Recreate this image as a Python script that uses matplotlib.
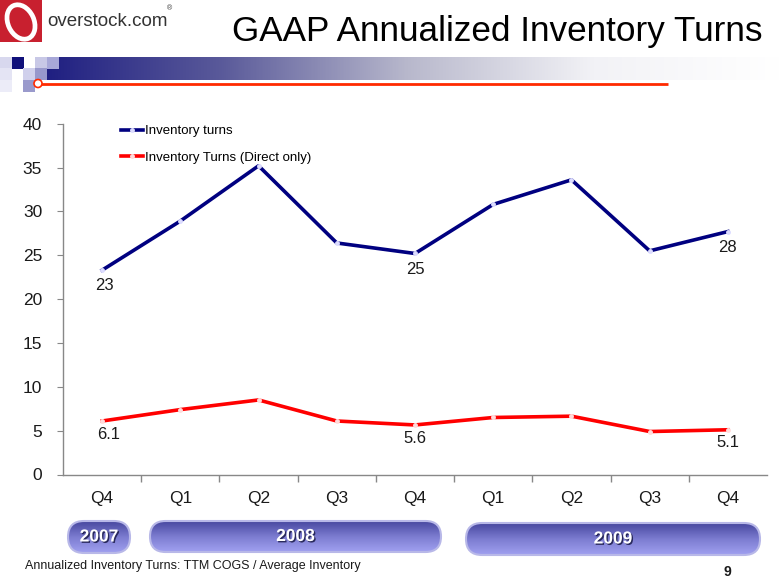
import matplotlib
matplotlib.use('Agg')
import matplotlib.pyplot as plt
import matplotlib.patches as mpatches
import matplotlib.patheffects as pe
import numpy as np

plt.rcParams['font.family'] = ['Liberation Sans', 'DejaVu Sans']

# data
quarters = ['Q4', 'Q1', 'Q2', 'Q3', 'Q4', 'Q1', 'Q2', 'Q3', 'Q4']
inventory_turns = [23.3, 28.9, 35.2, 26.4, 25.2, 30.8, 33.6, 25.5, 27.7]
direct_turns = [6.1, 7.4, 8.5, 6.1, 5.65, 6.5, 6.65, 4.9, 5.1]
turns_labels = {0: '23', 4: '25', 8: '28'}
direct_labels = {0: '6.1', 4: '5.6', 8: '5.1'}
years = ['2007', '2008', '2009']

fig = plt.figure(figsize=(7.8, 5.85), dpi=100)

# background layer in pixel coordinates for the slide decoration
bg = fig.add_axes([0, 0, 1, 1], zorder=0)
bg.axis('off')

# logo
bg.add_patch(mpatches.Rectangle((0, 0), 42, 42, color='#c8202f', lw=0))
bg.add_patch(mpatches.Ellipse((21, 22), 26, 36, angle=-25, fill=False, ec='white', lw=3.4))
bg.text(47, 21, 'overstock.com', fontsize=13.5, color='#333333', va='center', ha='left')
bg.text(167, 9, '®', fontsize=5, color='#333333', va='center', ha='left')

# title
bg.text(762, 32, 'GAAP Annualized Inventory Turns', fontsize=25.3, color='black', va='center', ha='right')

# gradient band
grad = np.linspace(0, 1, 256).reshape(1, -1)
band_cmap = matplotlib.colors.LinearSegmentedColormap.from_list(
    'band', ['#1c1c80', '#5a5a9a', '#b8b8cc', '#f2f2f6', '#ffffff'])
bg.imshow(grad, extent=(35, 780, 80, 57), aspect='auto', cmap=band_cmap)

# little squares
squares = [(0, 57, '#d8d8ee'), (12, 57, '#10107a'), (35, 57, '#c8c8e6'),
           (47, 57, '#a8a8d8'), (0, 68, '#e4e4f4'), (23, 68, '#d0d0ec'),
           (35, 68, '#9898cc'), (0, 80, '#ececf8'), (23, 80, '#9a9acc')]
for sx, sy, sc in squares:
    bg.add_patch(mpatches.Rectangle((sx, sy), 12, 12, color=sc, lw=0))

# red rule
bg.plot([38, 668], [83.5, 83.5], color='#ff2a00', lw=2, solid_capstyle='butt')
bg.add_patch(mpatches.Circle((38, 83.5), 4, fc='white', ec='#ff2a00', lw=1.2, zorder=3))

# main chart
ax = fig.add_axes([63 / 780, 1 - 474.5 / 585, (767 - 63) / 780, (474.5 - 123.7) / 585], zorder=1)
ax.set_facecolor('none')
x = np.arange(len(quarters))

ax.plot(x, inventory_turns, color='#000080', lw=2.6, marker='o', ms=2.5,
        mfc='#dcdcff', mec='#dcdcff', label='Inventory turns')
ax.plot(x, direct_turns, color='#ff0000', lw=2.6, marker='o', ms=2.5,
        mfc='#ffdcdc', mec='#ffdcdc', label='Inventory Turns (Direct only)')

for i, t in turns_labels.items():
    ax.annotate(t, (x[i], inventory_turns[i]), xytext=(2 if i == 0 else 0, -6),
                textcoords='offset points', ha='center', va='top', fontsize=12, color='#1a1a1a')
for i, t in direct_labels.items():
    ax.annotate(t, (x[i], direct_turns[i]), xytext=(5 if i == 0 else 0, -4),
                textcoords='offset points', ha='center', va='top', fontsize=12, color='#1a1a1a')

ax.set_xlim(-0.5, len(quarters) - 0.5)
ax.set_ylim(0, 40)
ax.set_yticks(range(0, 41, 5))
ax.set_xticks(x)
ax.set_xticklabels(quarters)
ax.set_xticks(np.arange(0.5, len(quarters) - 1, 1), minor=True)
ax.tick_params(axis='x', which='major', length=0, pad=12, labelsize=12.5, labelcolor='#1a1a1a')
ax.tick_params(axis='x', which='minor', length=5, color='#888888', width=1)
ax.tick_params(axis='y', length=4, color='#888888', pad=11, labelsize=12.5, labelcolor='#1a1a1a')
for s in ['top', 'right']:
    ax.spines[s].set_visible(False)
for s in ['left', 'bottom']:
    ax.spines[s].set_color('#888888')
    ax.spines[s].set_linewidth(1)

ax.legend(loc='upper left', bbox_to_anchor=(0.065, 1.03), frameon=False, fontsize=9.5,
          handlelength=1.7, handletextpad=0.15, labelspacing=1.1)

# year pills
pill_cmap = matplotlib.colors.LinearSegmentedColormap.from_list('pill', ['#4848a0', '#7c7cd0', '#a0a0f0'])
vgrad = np.linspace(0, 1, 64).reshape(-1, 1)
pill_px = [(68, 130, 521, 553), (150, 441, 521, 552), (466, 760, 523, 555)]
for yr, (x0, x1, y0, y1) in zip(years, pill_px):
    h = y1 - y0
    pill = mpatches.FancyBboxPatch((x0, y0), x1 - x0, h,
                                   boxstyle=mpatches.BoxStyle('Round', pad=0, rounding_size=h / 2),
                                   fc='none', ec='#b8b8e8', lw=1.5, zorder=3)
    bg.add_patch(pill)
    im = bg.imshow(vgrad, extent=(x0, x1, y1, y0), aspect='auto', cmap=pill_cmap, zorder=2)
    im.set_clip_path(pill)
    bg.text((x0 + x1) / 2, (y0 + y1) / 2, yr, fontsize=12.5, fontweight='bold', color='white',
            ha='center', va='center', zorder=4,
            path_effects=[pe.withSimplePatchShadow(offset=(1, -1), shadow_rgbFace='#202050', alpha=0.9)])

bg.set_xlim(0, 780)
bg.set_ylim(585, 0)

bg.text(25, 566, 'Annualized Inventory Turns: TTM COGS / Average Inventory', fontsize=9,
        color='#1a1a1a', ha='left', va='center')
bg.text(727, 572, '9', fontsize=10, fontweight='bold', color='#1a1a1a', ha='center', va='center')

plt.savefig('out.png', dpi=100)
